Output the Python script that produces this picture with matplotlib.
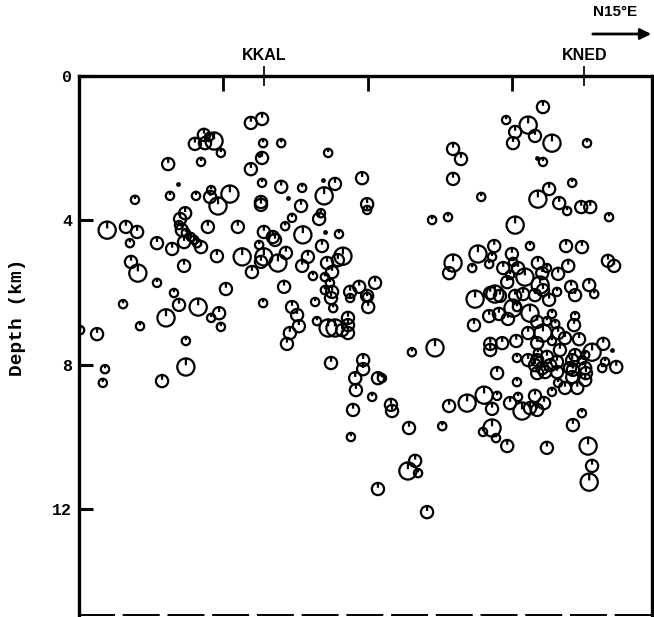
import numpy as np
import matplotlib
matplotlib.use('Agg')
import matplotlib.pyplot as plt
from matplotlib.path import Path

# Distance along profile (km), depth (km) and symbol class
# (0 = tiny dot, 1 = small, 2 = medium, 3 = large circle)

# events under KKAL
kkal_dist = [4.76, 5.07, 3.21, 3.46, 3.49, 3.74, 3.60, 3.93, 5.10, 4.99,
             5.07, 4.76, 5.07, 2.47, 3.38, 2.74, 1.55, 2.52, 3.24, 3.66,
             3.63, 3.85, 4.18, 5.04, 5.04, 2.94, 2.80, 2.77, 2.85, 2.96,
             3.10, 3.19, 3.27, 3.38, 2.91, 0.78, 1.30, 1.61, 1.41, 2.16,
             2.58, 3.57, 4.40, 5.12, 5.37, 4.99, 3.82, 4.52, 5.12, 5.04,
             4.79, 1.44, 1.63, 2.91, 2.16, 2.63, 4.07, 1.22, 2.77, 2.41,
             3.30, 3.88, 3.66, 3.93, 5.10, 1.69, 0.03, 0.50, 2.96, 2.96,
             0.72, 0.66, 2.30]
kkal_depth = [1.30, 1.19, 1.88, 1.63, 1.86, 1.80, 1.69, 2.13, 1.86, 2.19,
              2.27, 2.58, 2.96, 2.44, 2.38, 2.99, 3.43, 3.32, 3.32, 3.16,
              3.35, 3.60, 3.27, 3.49, 3.57, 3.80, 3.96, 4.13, 4.27, 4.35,
              4.46, 4.54, 4.63, 4.74, 4.60, 4.27, 4.18, 4.32, 4.63, 4.63,
              4.79, 4.18, 4.18, 4.32, 4.46, 4.68, 4.99, 5.01, 5.01, 5.15,
              5.43, 5.15, 5.46, 5.26, 5.73, 6.01, 5.90, 6.32, 6.34, 6.70,
              6.40, 6.57, 6.70, 6.95, 6.29, 6.93, 7.04, 7.15, 7.34, 8.06,
              8.12, 8.50, 8.45]
kkal_cls = [2, 2, 2, 2, 2, 3, 1, 1, 1, 0,
            2, 2, 1, 2, 1, 0, 1, 1, 1, 1,
            2, 3, 3, 2, 2, 2, 2, 1, 2, 1,
            1, 1, 1, 2, 2, 3, 2, 2, 1, 2,
            2, 2, 2, 2, 2, 1, 2, 3, 3, 2,
            2, 2, 3, 2, 1, 1, 2, 1, 2, 3,
            3, 2, 1, 1, 1, 1, 1, 2, 1, 3,
            1, 1, 2]

# events between the stations
mid_dist = [5.60, 6.90, 10.36, 10.58, 10.36, 7.84, 6.76, 7.09, 6.79, 5.60,
            6.18, 5.79, 6.15, 7.98, 7.98, 6.70, 6.65, 5.90, 5.71, 9.78,
            10.22, 6.20, 5.43, 6.81, 7.20, 6.73, 5.73, 5.51, 6.18, 6.34,
            7.31, 7.17, 6.87, 7.01, 6.81, 6.48, 10.36, 10.25, 5.68, 6.95,
            7.01, 6.81, 7.51, 7.76, 7.98, 8.20, 5.90, 6.04, 6.09, 5.84,
            5.76, 6.54, 6.98, 7.04, 7.51, 8.01, 7.98, 6.59, 6.90, 7.09,
            7.29, 7.45, 7.45, 7.45, 9.22, 9.86, 6.98, 7.87, 7.87, 7.65,
            7.67, 8.28, 8.39, 8.12, 8.64, 8.67, 7.59, 10.25, 10.75, 9.14,
            10.06, 7.53, 9.31, 9.11, 9.39, 8.28, 9.64]
mid_depth = [1.86, 2.13, 2.02, 2.30, 2.85, 2.83, 2.88, 2.99, 3.32, 3.07,
             3.10, 3.38, 3.60, 3.55, 3.71, 3.80, 3.96, 3.93, 4.16, 3.99,
             3.91, 4.40, 4.54, 4.32, 4.38, 4.71, 4.90, 5.18, 5.26, 5.01,
             4.99, 5.10, 5.18, 5.43, 5.57, 5.54, 5.18, 5.46, 5.84, 5.73,
             5.98, 5.93, 5.98, 5.84, 6.09, 5.73, 6.40, 6.62, 6.93, 7.12,
             7.42, 6.26, 6.15, 6.43, 6.15, 6.40, 6.12, 6.79, 6.98, 6.98,
             7.04, 6.70, 6.90, 7.12, 7.65, 7.53, 7.95, 7.87, 8.12, 8.37,
             8.70, 8.37, 8.37, 8.89, 9.11, 9.28, 9.25, 9.14, 9.06, 9.75,
             9.70, 10.00, 10.66, 10.94, 11.00, 11.44, 12.08]
mid_cls = [1, 1, 2, 2, 2, 2, 0, 2, 3, 2,
           1, 0, 2, 2, 1, 1, 2, 1, 1, 1,
           1, 3, 2, 0, 1, 2, 2, 3, 2, 2,
           3, 2, 2, 2, 1, 1, 3, 2, 2, 1,
           2, 1, 2, 2, 2, 2, 2, 2, 2, 2,
           2, 1, 2, 1, 1, 2, 1, 1, 3, 3,
           2, 2, 2, 2, 1, 3, 2, 2, 2, 2,
           2, 2, 1, 1, 2, 2, 2, 2, 3, 2,
           1, 1, 2, 3, 1, 2, 2]

# events under KNED
kned_dist = [12.85, 11.83, 12.44, 12.08, 12.63, 12.02, 13.10, 14.07, 12.69, 12.85,
             13.66, 11.14, 13.02, 12.71, 13.30, 13.52, 13.91, 14.16, 14.68, 12.08,
             12.49, 11.50, 13.49, 13.93, 11.05, 11.44, 11.36, 10.89, 11.99, 12.02,
             11.75, 12.16, 12.71, 12.96, 13.55, 14.65, 14.82, 11.94, 12.35, 11.86,
             12.83, 13.27, 12.77, 12.85, 14.13, 14.27, 13.63, 13.74, 10.97, 11.52,
             11.66, 11.39, 12.08, 12.30, 12.63, 13.02, 13.24, 12.02, 12.13, 12.49,
             11.36, 11.63, 11.88, 13.10, 13.74, 10.94, 12.69, 12.96, 13.19, 13.71,
             12.44, 12.85, 13.27, 13.46, 13.85, 11.39, 11.39, 11.72, 12.11, 12.69,
             13.10, 14.52, 14.76, 14.21, 12.13, 12.44, 12.69, 12.96, 13.24, 13.66,
             13.93, 14.57, 14.88, 12.71, 13.32, 13.74, 14.02, 11.58, 12.83, 13.24,
             13.60, 14.02, 14.49, 12.63, 13.05, 13.68, 13.66, 14.04, 12.69, 12.91,
             14.02, 12.13, 13.27, 13.46, 13.10, 13.80, 11.22, 11.58, 11.44, 11.94,
             12.16, 12.27, 12.49, 12.69, 12.63, 12.88, 13.93, 13.68, 11.44, 11.19,
             11.55, 11.86, 12.96, 14.10, 14.21, 14.13]
kned_depth = [0.86, 1.22, 1.36, 1.55, 1.66, 1.86, 1.86, 1.86, 2.27, 2.38,
              2.96, 3.35, 3.13, 3.41, 3.52, 3.74, 3.63, 3.63, 3.91, 4.13,
              4.71, 4.71, 4.71, 4.74, 4.93, 5.01, 5.21, 5.32, 4.93, 5.15,
              5.32, 5.32, 5.18, 5.32, 5.26, 5.12, 5.26, 5.51, 5.57, 5.71,
              5.46, 5.48, 5.79, 5.93, 5.79, 6.04, 5.84, 6.07, 6.18, 6.04,
              6.09, 6.01, 6.09, 6.04, 6.07, 6.20, 5.98, 6.43, 6.40, 6.57,
              6.65, 6.59, 6.73, 6.59, 6.65, 6.90, 6.81, 6.79, 6.87, 6.90,
              7.12, 7.12, 7.12, 7.26, 7.29, 7.42, 7.59, 7.40, 7.34, 7.40,
              7.34, 7.42, 7.59, 7.65, 7.81, 7.87, 7.87, 7.78, 7.92, 7.87,
              7.87, 7.92, 8.06, 7.67, 7.59, 7.73, 7.73, 8.23, 8.09, 8.20,
              8.09, 8.09, 8.09, 8.01, 8.01, 8.14, 8.34, 8.23, 8.23, 8.20,
              8.42, 8.48, 8.50, 8.64, 8.75, 8.64, 8.84, 8.86, 9.22, 9.06,
              8.89, 9.28, 9.20, 9.25, 8.86, 9.06, 9.34, 9.67, 9.75, 9.86,
              10.03, 10.25, 10.30, 10.25, 10.80, 11.25]
kned_cls = [2, 1, 3, 2, 2, 2, 3, 1, 0, 1,
            1, 1, 2, 3, 2, 1, 2, 2, 1, 3,
            1, 2, 2, 2, 3, 1, 1, 1, 2, 1,
            2, 2, 2, 1, 2, 2, 2, 1, 3, 2,
            2, 2, 3, 2, 2, 1, 2, 2, 3, 3,
            2, 2, 2, 2, 2, 2, 1, 3, 1, 3,
            2, 2, 2, 1, 1, 2, 2, 1, 1, 2,
            2, 3, 2, 2, 2, 2, 2, 2, 2, 2,
            1, 2, 0, 3, 1, 2, 2, 2, 2, 2,
            1, 1, 2, 1, 2, 2, 1, 2, 2, 2,
            2, 2, 1, 2, 2, 2, 2, 2, 2, 2,
            2, 1, 1, 2, 1, 2, 3, 1, 2, 2,
            1, 3, 2, 2, 2, 2, 1, 2, 3, 1,
            1, 2, 2, 3, 2, 3]

station_names = ['KKAL', 'KNED']
station_dist = [5.12, 14.0]
depth_ticks = [0, 4, 8, 12]
grid_ticks = [4, 8, 12]


def event_marker():
    # open circle with a short stroke hanging from the top
    circle = Path.unit_circle()
    stroke = Path([[0, 1], [0, 0.2]], [Path.MOVETO, Path.LINETO])
    return Path.make_compound_path(circle, stroke)


def main():
    fig = plt.figure(figsize=(6.54, 6.17), dpi=100)
    ax = fig.add_axes([79 / 654, 2 / 617, 573 / 654, 539 / 617])

    dist = np.array(kkal_dist + mid_dist + kned_dist)
    depth = np.array(kkal_depth + mid_depth + kned_depth)
    cls = np.array(kkal_cls + mid_cls + kned_cls)

    diam = {1: 6.0, 2: 8.8, 3: 12.4}
    marker = event_marker()
    for c in (3, 2, 1):
        m = cls == c
        ax.scatter(dist[m], depth[m], s=diam[c] ** 2, marker=marker,
                   facecolors='none', edgecolors='black', linewidths=1.6)
    m = cls == 0
    ax.scatter(dist[m], depth[m], s=12, color='black', linewidths=0)

    ax.set_xlim(0, 15.87)
    ax.set_ylim(14.93, 0)

    for side in ('left', 'top', 'right'):
        ax.spines[side].set_linewidth(2.4)
    ax.spines['bottom'].set_linewidth(1.4)
    ax.spines['bottom'].set_linestyle((0, (18, 5)))

    mono = 'Liberation Mono'
    sans = 'Liberation Sans'

    ax.set_yticks(depth_ticks, labels=[str(t) for t in depth_ticks],
                  fontfamily=mono, fontweight='bold', fontsize=12)
    ax.tick_params(axis='y', direction='in', length=10, width=2.2, pad=5,
                   right=False)

    ax.set_xticks(grid_ticks, labels=[])
    ax.set_xticks(station_dist, labels=station_names, minor=True,
                  fontfamily=sans, fontweight='bold', fontsize=11.5)
    ax.tick_params(axis='x', which='both', bottom=False, labelbottom=False,
                   top=True)
    ax.tick_params(axis='x', which='major', direction='in', length=11,
                   width=2.0, labeltop=False)
    ax.tick_params(axis='x', which='minor', direction='inout', length=15,
                   width=1.2, labeltop=True, pad=2)

    ax.set_ylabel('Depth (km)', fontfamily=mono, fontweight='bold',
                  fontsize=14)
    ax.yaxis.set_label_coords(-0.092, 0.553)

    # direction arrow
    fig.text(615 / 654, 1 - 12 / 617, 'N15°E', ha='center', va='center',
             fontfamily=sans, fontweight='bold', fontsize=11)
    ax.annotate('', xy=(654, 617 - 34), xytext=(590, 617 - 34),
                xycoords='figure pixels', textcoords='figure pixels',
                arrowprops=dict(arrowstyle='-|>', lw=2, color='black',
                                mutation_scale=16),
                annotation_clip=False)

    fig.savefig('out.png', dpi=100)


if __name__ == '__main__':

    main()
